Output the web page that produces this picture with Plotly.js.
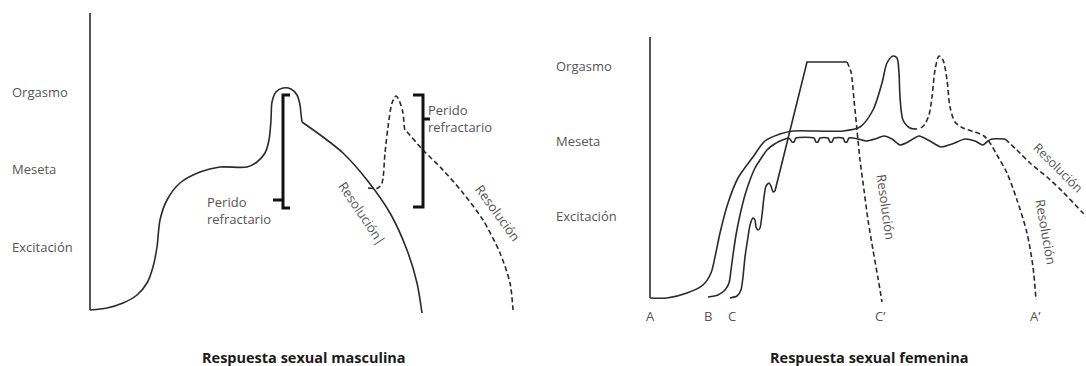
<!DOCTYPE html>
<html>
<head>
<meta charset="utf-8">
<script src="https://cdn.plot.ly/plotly-3.0.1.min.js"></script>
<style>html,body{margin:0;padding:0;background:#fff;}#chart{width:1086px;height:366px;}</style>
</head>
<body>
<div id="chart"></div>
<script>
// ---- Male response (left panel) ----
const maleAxisX = [90, 90];
const maleAxisY = [13, 310];
const maleCurveX = [90, 107, 123, 137, 147, 153, 157, 160, 167, 180, 200, 220, 247, 257, 265, 269, 271, 272, 276, 283, 291, 297, 300, 301, 302];
const maleCurveY = [310, 308, 303, 295, 283, 267, 247, 220, 200, 183, 172, 167, 167, 162, 153, 140, 120, 102, 92, 88, 89, 95, 105, 114, 122];
const maleResX = [302, 323, 343, 367, 390, 407, 417, 422];
const maleResY = [122, 137, 153, 180, 213, 250, 283, 313];
const maleSecondX = [368, 378, 382, 385, 388, 392, 396, 399, 403, 405, 408, 423, 443, 463, 483, 500, 510, 513];
const maleSecondY = [188, 188, 183, 153, 127, 103, 96, 100, 113, 130, 133, 150, 170, 193, 220, 253, 283, 310];
const bracket1X = [290, 283, 283, 290, null, 273, 283];
const bracket1Y = [95, 95, 208, 208, null, 200, 200];
const bracket2X = [413, 423, 423, 413, null, 423, 430];
const bracket2Y = [95, 95, 207, 207, null, 119, 119];

// ---- Female response (right panel) ----
const femAxisX = [650, 650];
const femAxisY = [37, 298];
const curveAX = [650, 667, 687, 703, 711, 715, 720, 728, 738, 753, 765, 780, 793, 843, 860, 873, 882, 887, 893, 897, 899, 900, 903, 910, 917];
const curveAY = [298, 298, 293, 285, 273, 257, 233, 203, 178, 157, 141, 134, 131, 131, 127, 110, 83, 63, 56, 58, 73, 97, 120, 128, 129];
const curveADashX = [921, 925, 929, 932, 935, 939, 943, 947, 950, 955, 963, 975, 984, 990, 997, 1007, 1017, 1027, 1033, 1036];
const curveADashY = [128, 124, 115, 97, 70, 56, 60, 80, 107, 122, 128, 132, 136, 143, 155, 173, 200, 233, 267, 300];
const curveBX = [708, 718, 725, 729, 731, 733, 736, 740, 745, 750, 755, 760, 767, 773, 780, 788];
const curveBY = [297, 295, 290, 283, 270, 255, 235, 215, 195, 180, 168, 160, 150, 145, 141, 138];
const waveBX = [788, 790, 792, 794, 796, 814, 816, 818, 820, 828, 830, 832, 834, 843, 845, 847, 849, 858, 866, 875, 884, 892, 900, 908, 919, 930, 941, 952, 965, 975, 983, 988, 992, 1005];
const waveBY = [138, 139, 142, 142, 138, 138, 142, 142, 138, 138, 142, 142, 138, 138, 142, 142, 138, 139, 141, 139, 136, 139, 145, 142, 136, 141, 147, 144, 139, 141, 145, 141, 139, 139];
const curveBDashX = [1005, 1017, 1030, 1047, 1063, 1082, 1092];
const curveBDashY = [139, 150, 163, 177, 192, 212, 222];
const curveCX = [730, 737, 741, 743, 745, 748, 750, 753, 755, 756, 758, 760, 762, 764, 766, 769, 771, 773, 775];
const curveCY = [298, 296, 290, 277, 257, 237, 225, 218, 220, 227, 230, 228, 215, 197, 186, 183, 186, 192, 191];
const plateauCX = [775, 807, 847];
const plateauCY = [191, 62, 62];
const curveCDashX = [847, 851, 854, 857, 860, 864, 868, 873, 878, 882];
const curveCDashY = [62, 72, 100, 130, 160, 190, 220, 250, 278, 302];

// ---- Text ----
const stageLabels = ["Orgasmo", "Meseta", "Excitación"];
const maleStageY = [92, 169, 247];
const femStageY = [66, 141, 216];
const startLabels = ["A", "B", "C", "C\u2019", "A\u2019"];
const startLabelX = [650, 708, 732, 880, 1035];
const refractLabel = "Perido<br>refractario";
const resLabel = "Resolución";
const maleTitle = "Respuesta sexual masculina";
const femTitle = "Respuesta sexual femenina";

const INK = '#2a2a2a';
const TXT = '#555555';
const DASH = '5px,3px';

function line(x, y, opts) {
  opts = opts || {};
  return {
    x: x, y: y, type: 'scatter', mode: 'lines', hoverinfo: 'skip', showlegend: false,
    line: {color: opts.color || INK, width: opts.width || 1.6, dash: opts.dash || 'solid',
           shape: opts.shape || 'spline', smoothing: opts.smoothing === undefined ? 0.8 : opts.smoothing}
  };
}

const traces = [
  line(maleAxisX, maleAxisY, {shape: 'linear'}),
  line(maleCurveX, maleCurveY),
  line(maleResX, maleResY),
  line(maleSecondX, maleSecondY, {dash: DASH}),
  line(bracket1X, bracket1Y, {shape: 'linear', width: 3, color: '#111'}),
  line(bracket2X, bracket2Y, {shape: 'linear', width: 3, color: '#111'}),
  line(femAxisX, femAxisY, {shape: 'linear'}),
  line(curveAX, curveAY),
  line(curveADashX, curveADashY, {dash: DASH}),
  line(curveBX, curveBY),
  line(waveBX, waveBY, {smoothing: 0.6}),
  line(curveBDashX, curveBDashY, {dash: DASH}),
  line(curveCX, curveCY, {smoothing: 0.6}),
  line(plateauCX, plateauCY, {shape: 'linear'}),
  line(curveCDashX, curveCDashY, {dash: DASH})
];

const FONT = 'Open Sans, Noto Sans, sans-serif';
const ann = [];
function txt(text, x, y, o) {
  o = o || {};
  ann.push({text: text, x: x, y: y, xref: 'x', yref: 'y', showarrow: false,
    xanchor: o.xanchor || 'left', yanchor: o.yanchor || 'middle', align: o.align || 'left',
    textangle: o.angle || 0,
    font: {family: FONT, size: o.size || 13, color: o.color || TXT}});
}
stageLabels.forEach((s, i) => txt(s, 10, maleStageY[i]));
stageLabels.forEach((s, i) => txt(s, 554, femStageY[i]));
startLabels.forEach((s, i) => txt(s, startLabelX[i], 316, {xanchor: 'center'}));
txt(refractLabel, 205, 210);
txt(refractLabel, 426, 118);
txt(resLabel + '|', 362, 213, {xanchor: 'center', angle: 56});
txt(resLabel, 498, 213, {xanchor: 'center', angle: 54});
txt(resLabel, 886, 207, {xanchor: 'center', angle: 82});
txt(resLabel, 1046, 232, {xanchor: 'center', angle: 80});
txt(resLabel, 1058, 167, {xanchor: 'center', angle: 45, size: 12.5});
txt('<b>' + maleTitle + '</b>', 304, 357, {xanchor: 'center', size: 14.5, color: '#1a1a1a'});
txt('<b>' + femTitle + '</b>', 869, 357, {xanchor: 'center', size: 14.5, color: '#1a1a1a'});

const layout = {
  width: 1086, height: 366,
  margin: {l: 0, r: 0, t: 0, b: 0, pad: 0},
  paper_bgcolor: '#ffffff', plot_bgcolor: '#ffffff',
  xaxis: {range: [0, 1086], visible: false, fixedrange: true},
  yaxis: {range: [366, 0], visible: false, fixedrange: true},
  annotations: ann,
  showlegend: false
};
Plotly.newPlot('chart', traces, layout, {staticPlot: true, displayModeBar: false});
</script>
</body>
</html>
